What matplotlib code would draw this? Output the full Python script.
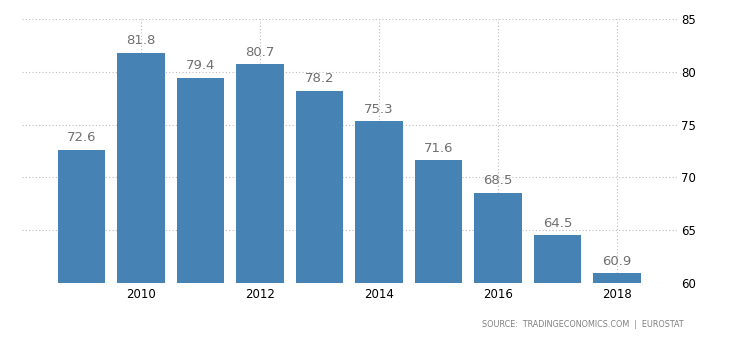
import matplotlib
matplotlib.use("Agg")
import matplotlib.pyplot as plt

years = [2009, 2010, 2011, 2012, 2013, 2014, 2015, 2016, 2017, 2018]
values = [72.6, 81.8, 79.4, 80.7, 78.2, 75.3, 71.6, 68.5, 64.5, 60.9]
xticks = [2010, 2012, 2014, 2016, 2018]
yticks = [60, 65, 70, 75, 80, 85]

fig = plt.figure(figsize=(7.3, 3.4), dpi=100)
ax = fig.add_axes([0.030, 0.168, 0.897, 0.776])

ax.bar(years, [v - 60 for v in values], bottom=60, width=0.8, color="#4682b4", zorder=2)
for x, v in zip(years, values):
    ax.text(x, v + 0.55, f"{v:.1f}", ha="center", va="bottom", fontsize=9.5, color="#707070", zorder=3)

ax.set_xlim(2008, 2019)
ax.set_ylim(60, 85)
ax.set_xticks(xticks)
ax.set_yticks(yticks)
ax.yaxis.tick_right()
ax.tick_params(axis="both", length=0, labelsize=8.5, colors="black")
ax.tick_params(axis="y", pad=3)
ax.tick_params(axis="x", pad=4)
ax.grid(True, color="#bdbdbd", linestyle=(0, (1, 2)), linewidth=0.8, zorder=0)
for s in ax.spines.values():
    s.set_visible(False)

fig.text(0.937, 0.045, "SOURCE:  TRADINGECONOMICS.COM  |  EUROSTAT", ha="right", va="center",
         fontsize=5.8, color="#808080")

plt.savefig("out.png", dpi=100)
